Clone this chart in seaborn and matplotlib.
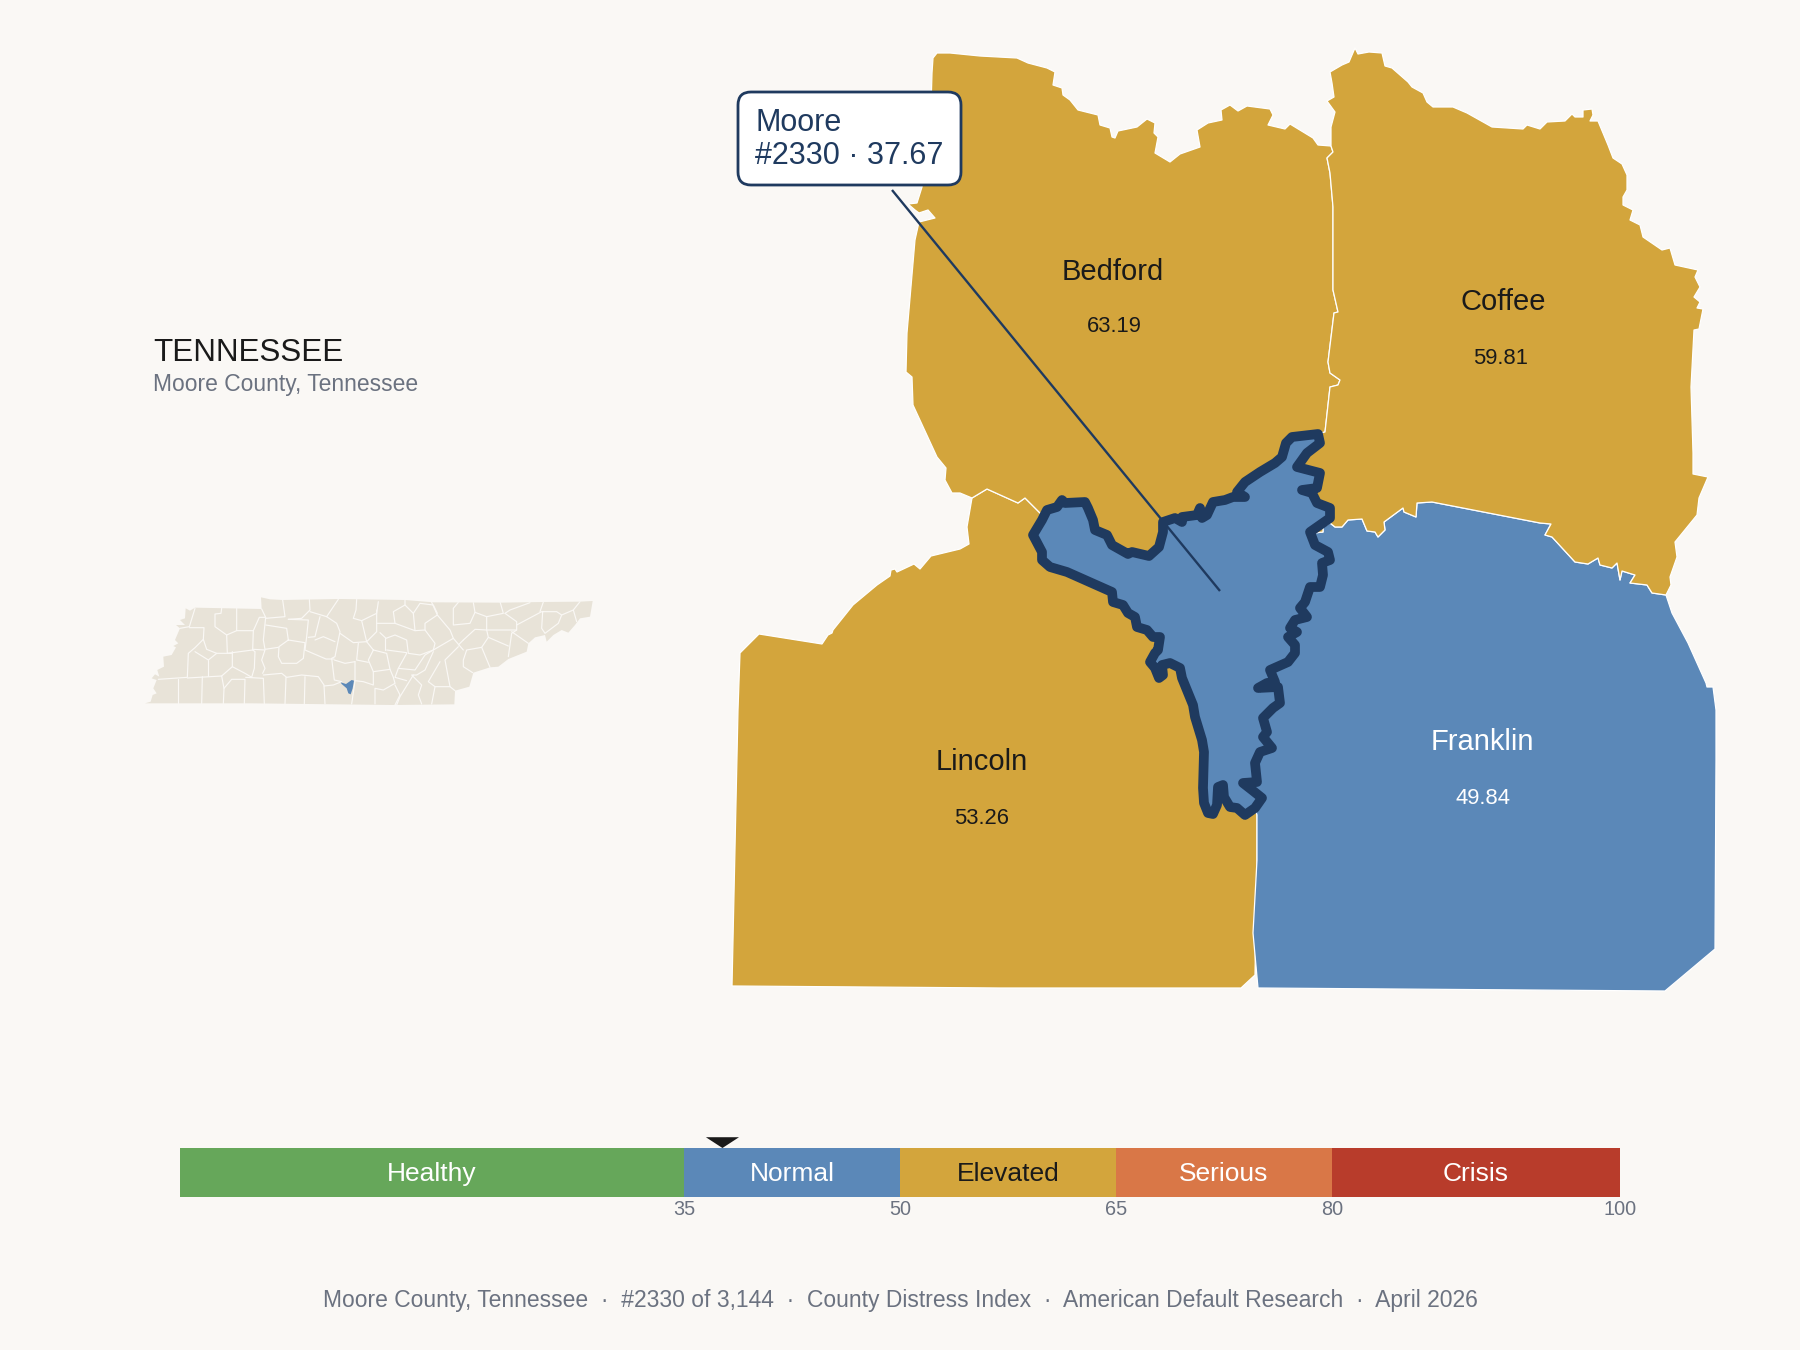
import numpy as np
import pandas as pd
import seaborn as sns
import matplotlib
matplotlib.use("Agg")
import matplotlib.pyplot as plt
from matplotlib.patches import FancyBboxPatch, Polygon
from matplotlib.transforms import blended_transform_factory

# --- SETTINGS ---
BG = "#faf8f5"
NAVY = "#1f3a5f"
GOLD = "#d3a53c"
BLUE = "#5b88b8"
INK = "#1a1a1a"
GREY = "#6b7280"
LAND = "#e8e3d8"

# --- SCORE DATA ---
neighbor_names = ["Bedford", "Coffee", "Lincoln", "Franklin"]
neighbor_scores = [63.19, 59.81, 53.26, 49.84]
county_name = "Moore"
county_rank = 2330
county_count = 3144
county_score = 37.67
band_names = ["Healthy", "Normal", "Elevated", "Serious", "Crisis"]
band_edges = [0, 35, 50, 65, 80, 100]
band_colors = ["#66a75a", BLUE, GOLD, "#d97747", "#b83c2b"]
band_text = ["white", "white", INK, "white", "white"]
score_ticks = [35, 50, 65, 80, 100]

# --- COUNTY SHAPES ---
bed_cof_edge = [(1331, 146), (1333, 152), (1327, 158), (1330, 173), (1333, 207), (1333, 290),
                (1338, 312), (1334, 313), (1328, 362), (1330, 373), (1340, 380), (1338, 385),
                (1330, 387), (1325, 432)]
lin_bed_edge = [(972, 498), (987, 489), (1018, 503), (1025, 498), (1040, 513)]
cof_fra_edge = [(1666, 595), (1652, 593), (1647, 585), (1630, 583), (1635, 575), (1622, 571),
                (1620, 580), (1617, 563), (1612, 568), (1600, 565), (1598, 558), (1588, 564),
                (1575, 562), (1552, 537), (1545, 535), (1551, 524), (1540, 523), (1432, 502),
                (1417, 503), (1416, 517), (1404, 512), (1403, 508), (1384, 522), (1385, 530),
                (1378, 537), (1375, 532), (1367, 531), (1362, 519), (1348, 520), (1342, 527),
                (1335, 527), (1330, 523), (1323, 527), (1323, 532), (1314, 533)]

bedford_north = [(937, 53), (950, 53), (980, 56), (1017, 58), (1028, 63), (1047, 68), (1055, 72),
                 (1053, 85), (1062, 88), (1063, 95), (1070, 100), (1078, 110), (1098, 115),
                 (1100, 125), (1110, 128), (1112, 137), (1115, 138), (1118, 131), (1137, 127),
                 (1147, 119), (1155, 123), (1154, 133), (1158, 137), (1155, 153), (1170, 162),
                 (1180, 154), (1200, 147), (1197, 130), (1208, 123), (1222, 120), (1221, 110),
                 (1230, 105), (1238, 111), (1247, 106), (1270, 109), (1273, 115), (1268, 125),
                 (1285, 129), (1290, 124), (1313, 138), (1318, 145)]
bedford_under = [(1305, 437), (1285, 450), (1250, 490), (1180, 560), (1150, 570), (1100, 560),
                 (1060, 530)]
bedford_west = [(960, 493), (952, 493), (945, 480), (946, 468), (937, 457), (913, 405), (912, 377),
                (906, 372), (907, 333), (915, 240), (919, 222), (935, 218), (928, 210), (919, 213),
                (915, 210), (908, 204), (917, 203), (922, 187), (931, 107), (932, 73), (933, 58)]

coffee_north = [(1355, 48), (1358, 54), (1369, 52), (1382, 53), (1385, 66), (1392, 68), (1408, 82),
                (1412, 87), (1423, 93), (1427, 102), (1433, 107), (1453, 107), (1467, 113),
                (1492, 127), (1523, 129), (1527, 125), (1540, 129), (1547, 122), (1565, 121),
                (1572, 114), (1575, 117), (1583, 117), (1583, 110), (1592, 109), (1593, 115),
                (1590, 121), (1598, 121), (1608, 145), (1613, 158), (1622, 164), (1627, 175),
                (1627, 190), (1623, 197), (1623, 205), (1633, 210), (1630, 220), (1640, 225),
                (1643, 237), (1662, 250), (1670, 248), (1675, 265), (1698, 270), (1695, 277),
                (1700, 287), (1694, 297), (1700, 302), (1697, 308), (1703, 309), (1699, 329),
                (1694, 330), (1691, 387), (1693, 453), (1693, 474), (1708, 477), (1699, 498),
                (1697, 515), (1675, 542), (1677, 557), (1670, 577), (1671, 585)]
coffee_under = [(1290, 500), (1285, 450), (1305, 437)]
coffee_west = [(1331, 127), (1335, 112), (1327, 101), (1334, 97), (1332, 83), (1330, 72),
               (1342, 65), (1349, 62)]

lincoln_rest = [(1130, 570), (1190, 640), (1240, 760), (1257, 815), (1257, 860), (1255, 975),
                (1241, 988), (1000, 988), (732, 986), (738, 710), (740, 653), (759, 634),
                (822, 644), (828, 635), (832, 633), (833, 630), (853, 605), (877, 585), (890, 576),
                (891, 570), (895, 569), (897, 572), (914, 564), (920, 569), (931, 556), (960, 549),
                (969, 544), (967, 527)]

franklin_rest = [(1672, 613), (1688, 643), (1706, 683), (1707, 687), (1713, 687), (1716, 710),
                 (1716, 760), (1715, 949), (1665, 991), (1258, 988), (1253, 933), (1257, 860),
                 (1257, 815), (1240, 760), (1260, 640), (1290, 560)]

moore_outline = [(1318, 434), (1292, 437), (1286, 443), (1282, 457), (1275, 463), (1260, 472),
                 (1245, 482), (1237, 492), (1245, 497), (1233, 497), (1225, 500), (1213, 502),
                 (1207, 515), (1202, 518), (1200, 508), (1197, 515), (1182, 517), (1182, 522),
                 (1175, 518), (1163, 522), (1163, 532), (1159, 547), (1149, 556), (1132, 552),
                 (1128, 554), (1112, 545), (1107, 535), (1095, 530), (1093, 520), (1088, 508),
                 (1085, 502), (1065, 503), (1062, 500), (1057, 507), (1047, 510), (1042, 520),
                 (1033, 535), (1042, 552), (1042, 560), (1050, 567), (1067, 572), (1112, 592),
                 (1113, 602), (1123, 605), (1128, 613), (1135, 617), (1137, 627), (1147, 630),
                 (1153, 637), (1160, 637), (1158, 650), (1155, 653), (1150, 662), (1155, 668),
                 (1159, 678), (1163, 675), (1162, 665), (1170, 663), (1180, 668), (1182, 678),
                 (1193, 705), (1195, 717), (1202, 740), (1204, 752), (1203, 788), (1204, 803),
                 (1208, 813), (1213, 814), (1217, 805), (1218, 787), (1223, 785), (1224, 797),
                 (1230, 807), (1237, 808), (1245, 815), (1255, 808), (1262, 798), (1252, 790),
                 (1243, 783), (1257, 782), (1255, 763), (1260, 752), (1272, 748), (1263, 737),
                 (1267, 732), (1263, 718), (1273, 708), (1280, 703), (1278, 687), (1258, 688),
                 (1267, 683), (1275, 682), (1270, 670), (1288, 662), (1295, 653), (1295, 645),
                 (1288, 637), (1297, 632), (1290, 628), (1295, 620), (1307, 617), (1300, 608),
                 (1305, 602), (1310, 587), (1320, 587), (1323, 575), (1322, 563), (1330, 560),
                 (1328, 552), (1315, 545), (1310, 532), (1330, 518), (1330, 508), (1317, 503),
                 (1312, 493), (1302, 490), (1317, 488), (1320, 473), (1297, 467), (1307, 453),
                 (1320, 443)]

# --- STATE LOCATOR SHAPES ---
state_outline = [(483, 112), (510, 118), (548, 120), (720, 117), (915, 120), (1000, 127), (1200, 128),
                 (1330, 126), (1440, 125), (1478, 123), (1470, 170), (1440, 175), (1425, 195),
                 (1405, 218), (1385, 210), (1360, 225), (1340, 245), (1335, 225), (1305, 232),
                 (1285, 250), (1280, 275), (1255, 285), (1225, 297), (1195, 320), (1170, 322),
                 (1120, 338), (1108, 380), (1065, 392), (1063, 433), (880, 435), (460, 430),
                 (135, 430), (152, 425), (158, 405), (170, 400), (160, 385), (170, 360), (155, 355),
                 (165, 343), (178, 350), (172, 330), (192, 320), (190, 290), (215, 285), (228, 262),
                 (220, 258), (235, 250), (225, 240), (240, 205), (228, 195), (255, 195), (240, 180),
                 (255, 175), (257, 145), (270, 152), (285, 143), (485, 147)]
state_moore = [(722, 367), (738, 372), (755, 360), (762, 362), (758, 385), (752, 403), (745, 400),
               (740, 385), (725, 372)]
state_county_lines = [
    [(285, 145), (268, 200), (240, 205)],
    [(365, 145), (363, 160), (345, 162), (345, 200), (380, 225), (410, 212), (410, 145)],
    [(410, 212), (460, 212), (478, 172), (497, 172), (485, 147)],
    [(268, 203), (312, 203), (310, 238), (285, 263), (265, 280), (262, 352), (175, 358)],
    [(380, 225), (382, 280), (458, 270), (460, 212)],
    [(310, 238), (320, 268), (350, 280), (397, 280)],
    [(285, 275), (325, 300), (350, 280)],
    [(325, 300), (325, 348)],
    [(397, 275), (397, 320), (365, 348), (262, 354)],
    [(458, 270), (465, 275), (463, 325), (455, 352), (435, 340), (397, 320)],
    [(307, 350), (305, 432)],
    [(235, 358), (235, 432)],
    [(365, 348), (372, 385), (370, 432)],
    [(372, 385), (395, 358), (435, 358), (433, 432)],
    [(437, 352), (490, 355), (493, 432)],
    [(490, 345), (545, 340), (560, 352), (605, 345), (655, 350), (672, 375), (675, 432)],
    [(558, 352), (555, 432)],
    [(615, 350), (613, 432)],
    [(488, 340), (495, 325), (485, 300), (495, 270), (460, 268)],
    [(497, 172), (490, 240), (495, 268), (535, 262)],
    [(497, 195), (560, 205), (565, 240), (615, 248), (610, 295), (590, 310), (545, 310), (535, 290),
     (537, 260), (565, 240)],
    [(565, 178), (625, 180), (620, 230), (615, 270), (678, 297), (702, 297)],
    [(548, 120), (555, 170), (497, 175)],
    [(628, 118), (630, 150), (605, 175), (565, 178)],
    [(630, 155), (680, 170), (715, 118)],
    [(660, 170), (645, 230), (625, 232)],
    [(680, 170), (710, 190), (720, 215), (705, 290), (695, 295), (703, 360), (725, 365)],
    [(645, 240), (670, 230), (705, 245)],
    [(720, 220), (760, 248), (800, 245), (820, 270)],
    [(775, 250), (770, 300), (805, 307)],
    [(770, 118), (768, 150), (760, 175), (785, 182), (800, 245)],
    [(785, 182), (830, 160), (835, 125)],
    [(830, 150), (830, 215), (800, 245)],
    [(830, 190), (885, 190), (945, 212)],
    [(885, 190), (880, 155), (915, 135), (915, 120)],
    [(915, 135), (940, 160), (945, 212), (975, 210), (1005, 250), (1000, 270), (960, 285), (925, 280),
     (920, 240), (885, 225), (858, 235), (840, 218)],
    [(940, 160), (960, 130), (1000, 135), (1012, 160)],
    [(975, 210), (975, 190), (1012, 165), (1050, 210), (1060, 235)],
    [(995, 127), (1012, 165)],
    [(1075, 127), (1060, 145), (1060, 195), (1110, 190), (1125, 157), (1120, 128)],
    [(1125, 157), (1160, 170), (1160, 210), (1125, 208), (1090, 240)],
    [(1160, 170), (1210, 160), (1200, 125)],
    [(1215, 160), (1250, 185), (1250, 210), (1160, 210)],
    [(1215, 160), (1230, 150), (1290, 128)],
    [(1250, 195), (1325, 155), (1370, 155), (1385, 165), (1375, 190), (1335, 220), (1325, 205), (1328, 155)],
    [(1330, 126), (1320, 155)],
    [(1385, 165), (1420, 150), (1440, 125)],
    [(1420, 150), (1430, 185)],
    [(1250, 210), (1235, 220), (1225, 290)],
    [(1235, 215), (1285, 250)],
    [(1160, 210), (1165, 232), (1225, 258)],
    [(1165, 232), (1145, 262), (1170, 322)],
    [(1145, 262), (1100, 270), (1090, 300), (1090, 320), (1118, 338)],
    [(1090, 270), (1060, 235), (1000, 270), (975, 285), (945, 330), (895, 325), (920, 280)],
    [(1075, 260), (1035, 300), (1050, 380)],
    [(1075, 255), (1090, 240)],
    [(1020, 305), (985, 365), (1005, 380), (1050, 380), (1065, 392)],
    [(1000, 275), (975, 330), (950, 345), (935, 345), (965, 375), (955, 405), (965, 432)],
    [(1005, 380), (995, 432)],
    [(940, 345), (900, 410), (890, 435)],
    [(895, 325), (885, 352), (920, 362)],
    [(820, 270), (805, 300), (820, 335), (870, 328), (860, 280), (820, 270)],
    [(860, 270), (920, 278)],
    [(870, 328), (880, 352), (885, 370), (850, 390), (825, 385), (825, 432)],
    [(820, 335), (820, 375), (790, 365), (765, 362)],
    [(765, 305), (765, 362), (755, 432)],
    [(672, 378), (700, 375), (725, 365)],
    [(885, 375), (900, 405), (885, 435)],
    [(703, 300), (735, 310), (765, 305)],
    [(855, 235), (855, 270)],
]

sns.set_theme(style="white")
plt.rcParams["font.family"] = ["Liberation Sans", "DejaVu Sans"]

fig = plt.figure(figsize=(18, 13.5), dpi=100, facecolor=BG)

# Main map axes, one unit per pixel
ax = fig.add_axes([0, 0, 1, 1])
ax.set_xlim(0, 1800)
ax.set_ylim(1350, 0)
ax.axis("off")

# Build the county polygons from the shared edges
shapes = {
    "Lincoln": lin_bed_edge + lincoln_rest,
    "Franklin": [cof_fra_edge[0]] + franklin_rest + cof_fra_edge[::-1],
    "Bedford": bedford_north + bed_cof_edge + bedford_under + lin_bed_edge[::-1] + bedford_west,
    "Coffee": coffee_north + cof_fra_edge + coffee_under + bed_cof_edge[::-1] + coffee_west + [(1355, 48)],
}
score_by_name = dict(zip(neighbor_names, neighbor_scores))


def band_color(score):
    idx = np.searchsorted(band_edges, score, side="right") - 1
    return band_colors[idx]


for name, outline in shapes.items():
    ax.add_patch(Polygon(outline, closed=True, facecolor=band_color(score_by_name[name]),
                         edgecolor="white", linewidth=0.9, joinstyle="round"))

ax.add_patch(Polygon(moore_outline, closed=True, facecolor=band_color(county_score), edgecolor=NAVY,
                     linewidth=7, joinstyle="round"))

# County labels
label_pos = {"Bedford": (1113, 272), "Coffee": (1503, 302), "Lincoln": (982, 762), "Franklin": (1482, 742)}
value_pos = {"Bedford": (1114, 327), "Coffee": (1501, 358), "Lincoln": (982, 818), "Franklin": (1483, 798)}
for name, score in zip(neighbor_names, neighbor_scores):
    col = "white" if score < 50 else INK
    ax.text(*label_pos[name], name, ha="center", va="center", fontsize=21, color=col)
    ax.text(*value_pos[name], f"{score:.2f}", ha="center", va="center", fontsize=15.8, color=col)

# Callout
ax.plot([892, 1220], [190, 591], color=NAVY, linewidth=1.7, solid_capstyle="butt")
ax.add_patch(FancyBboxPatch((738, 92), 223, 93, boxstyle="round,pad=0,rounding_size=13",
                            facecolor="white", edgecolor=NAVY, linewidth=2.0, zorder=5))
ax.text(755, 123, county_name, ha="left", va="center", fontsize=22, color=NAVY, zorder=6)
ax.text(755, 156, f"#{county_rank} · {county_score:.2f}", ha="left", va="center", fontsize=22,
        color=NAVY, zorder=6)

# Title block
ax.text(153, 353, "TENNESSEE", ha="left", va="center", fontsize=22.6, color=INK)
ax.text(153, 385, f"{county_name} County, Tennessee", ha="left", va="center", fontsize=16.5, color=GREY)

# Footer
footer_bits = [f"{county_name} County, Tennessee", f"#{county_rank} of {county_count:,}",
               "County Distress Index", "American Default Research", "April 2026"]
ax.text(900, 1301, "  ·  ".join(footer_bits), ha="center", va="center", fontsize=16.5, color=GREY)

# State locator
mini = fig.add_axes([100 / 1800, 1 - 730 / 1350, 520 / 1800, 170 / 1350])
mini.set_xlim(0, 1560)
mini.set_ylim(510, 0)
mini.axis("off")
mini.add_patch(Polygon(state_outline, closed=True, facecolor=LAND, edgecolor="none"))
for line in state_county_lines:
    xs, ys = zip(*line)
    mini.plot(xs, ys, color=BG, linewidth=0.85, solid_joinstyle="round")
mini.add_patch(Polygon(state_moore, closed=True, facecolor=BLUE, edgecolor="none", zorder=5))

# Score bar, one stretch per band
bar = fig.add_axes([180 / 1800, 1 - 1197 / 1350, 1440 / 1800, 49 / 1350])
bar.set_facecolor(BG)
band_mids = [(a + b) / 2 for a, b in zip(band_edges[:-1], band_edges[1:])]
band_df = pd.DataFrame({"mid": band_mids, "band": band_names, "height": [1] * len(band_names)})
sns.histplot(data=band_df, x="mid", weights="height", hue="band", hue_order=band_names, bins=band_edges,
             palette=dict(zip(band_names, band_colors)), alpha=1, linewidth=0, legend=False, ax=bar)
bar.set_xlim(0, 100)
bar.set_ylim(0, 1)
bar.set_xlabel("")
bar.set_ylabel("")
bar.set_yticks([])
bar.set_xticks(score_ticks)
bar.set_xticklabels([str(t) for t in score_ticks], fontsize=14.3, color=GREY)
bar.tick_params(axis="x", length=0, pad=2.5)
sns.despine(ax=bar, left=True, bottom=True)
for name, mid, col in zip(band_names, band_mids, band_text):
    bar.text(mid, 0.53, name, ha="center", va="center_baseline", fontsize=19, color=col)

# Marker at the county score
trans = blended_transform_factory(bar.transData, bar.transAxes)
bar.fill([county_score - 1.15, county_score + 1.15, county_score], [1.22, 1.22, 1.0], color=INK,
         transform=trans, clip_on=False, linewidth=0)

fig.savefig("out.png", dpi=100, facecolor=BG)
